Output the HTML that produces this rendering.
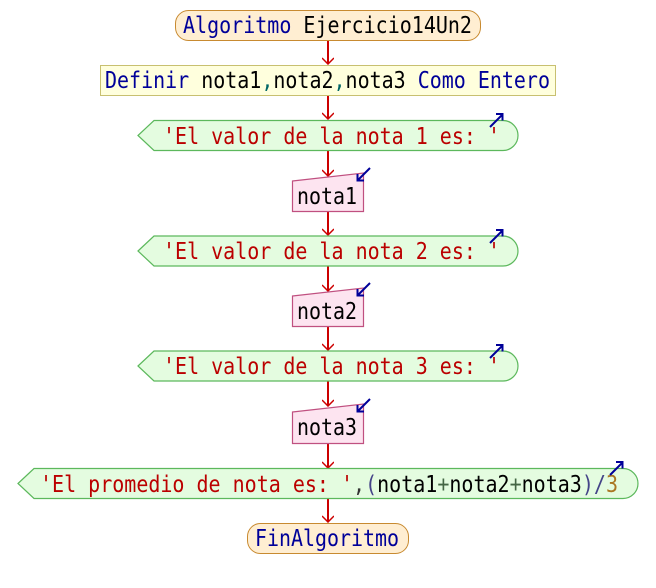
<!DOCTYPE html>
<html><head><style>
html,body{margin:0;padding:0;background:#fff;}
svg{display:block;}
text{font-family:"DejaVu Sans Mono","Liberation Mono",monospace;font-size:23px;}
</style></head><body>
<svg width="656" height="588" viewBox="0 0 656 588" xmlns="http://www.w3.org/2000/svg">
<defs>
<marker id="ah" markerWidth="12" markerHeight="10" refX="6" refY="9" orient="0" markerUnits="userSpaceOnUse">
<path d="M0,3 L6,9 L12,3" fill="none" stroke="#cc0000" stroke-width="1.5"/>
</marker>
</defs>
<g stroke="#cc0000" stroke-width="2" fill="none">
<line x1="328" y1="40" x2="328" y2="64" marker-end="url(#ah)"/>
<line x1="328" y1="95" x2="328" y2="119" marker-end="url(#ah)"/>
<line x1="328" y1="150" x2="328" y2="176" marker-end="url(#ah)"/>
<line x1="328" y1="211" x2="328" y2="235" marker-end="url(#ah)"/>
<line x1="328" y1="266" x2="328" y2="291" marker-end="url(#ah)"/>
<line x1="328" y1="326" x2="328" y2="350" marker-end="url(#ah)"/>
<line x1="328" y1="381" x2="328" y2="406" marker-end="url(#ah)"/>
<line x1="328" y1="443" x2="328" y2="468" marker-end="url(#ah)"/>
<line x1="328" y1="498" x2="328" y2="522" marker-end="url(#ah)"/>
</g>
<rect x="175.5" y="10.5" width="305" height="30" rx="13" fill="#ffeed2" stroke="#c88a30"/>
<text x="183" y="33" textLength="289" lengthAdjust="spacingAndGlyphs"><tspan fill="#000099">Algoritmo </tspan><tspan fill="#000">Ejercicio14Un2</tspan></text>
<rect x="100.5" y="65.5" width="455" height="30" fill="#ffffdd" stroke="#c8c070"/>
<text x="105" y="88" textLength="445" lengthAdjust="spacingAndGlyphs"><tspan fill="#000099">Definir </tspan><tspan fill="#000">nota1</tspan><tspan fill="#006666">,</tspan><tspan fill="#000">nota2</tspan><tspan fill="#006666">,</tspan><tspan fill="#000">nota3 </tspan><tspan fill="#000099">Como Entero</tspan></text>
<g fill="#e4fce0" stroke="#5cb85c" stroke-width="1.2">
<path d="M138,135.5 L154,120.5 H503 A15,15 0 0 1 503,150.5 H154 Z"/>
<path d="M138,251 L154,236 H503 A15,15 0 0 1 503,266 H154 Z"/>
<path d="M138,366 L154,351 H503 A15,15 0 0 1 503,381 H154 Z"/>
<path d="M18,483.5 L34,468.5 H623 A15,15 0 0 1 623,498.5 H34 Z"/>
</g>
<text x="163" y="144" fill="#bb0000" textLength="337" lengthAdjust="spacingAndGlyphs">'El valor de la nota 1 es: '</text>
<text x="163" y="259" fill="#bb0000" textLength="337" lengthAdjust="spacingAndGlyphs">'El valor de la nota 2 es: '</text>
<text x="163" y="374" fill="#bb0000" textLength="337" lengthAdjust="spacingAndGlyphs">'El valor de la nota 3 es: '</text>
<text x="40" y="492" textLength="578" lengthAdjust="spacingAndGlyphs"><tspan fill="#bb0000">'El promedio de nota es: '</tspan><tspan fill="#333">,</tspan><tspan fill="#444488">(</tspan><tspan fill="#000">nota1</tspan><tspan fill="#446644">+</tspan><tspan fill="#000">nota2</tspan><tspan fill="#446644">+</tspan><tspan fill="#000">nota3</tspan><tspan fill="#444488">)/</tspan><tspan fill="#aa7722">3</tspan></text>
<g stroke="#000099" stroke-width="2" fill="none">
<path d="M490,127 L502,115 M496,114 H502.5 V120.5"/>
<path d="M490,243 L502,231 M496,230 H502.5 V236.5"/>
<path d="M490,358 L502,346 M496,345 H502.5 V351.5"/>
<path d="M610,475 L622,463 M616,462 H622.5 V468.5"/>
</g>
<g fill="#fde4f0" stroke="#c05080" stroke-width="1.2">
<path d="M292.5,181 L363.5,173 V211.5 H292.5 Z"/>
<path d="M292.5,296 L363.5,288 V326.5 H292.5 Z"/>
<path d="M292.5,412 L363.5,404 V443.5 H292.5 Z"/>
</g>
<text x="297" y="204" fill="#000" textLength="60" lengthAdjust="spacingAndGlyphs">nota1</text>
<text x="297" y="319" fill="#000" textLength="60" lengthAdjust="spacingAndGlyphs">nota2</text>
<text x="297" y="435" fill="#000" textLength="60" lengthAdjust="spacingAndGlyphs">nota3</text>
<g stroke="#000099" stroke-width="2" fill="none">
<path d="M370,168 L358,180 M357.5,174 V180.5 H364"/>
<path d="M370,283 L358,295 M357.5,289 V295.5 H364"/>
<path d="M370,399 L358,411 M357.5,405 V411.5 H364"/>
</g>
<rect x="247.5" y="523.5" width="161" height="30" rx="13" fill="#ffeed2" stroke="#c88a30"/>
<text x="255" y="546" fill="#000099" textLength="144" lengthAdjust="spacingAndGlyphs">FinAlgoritmo</text>
</svg>
</body></html>
